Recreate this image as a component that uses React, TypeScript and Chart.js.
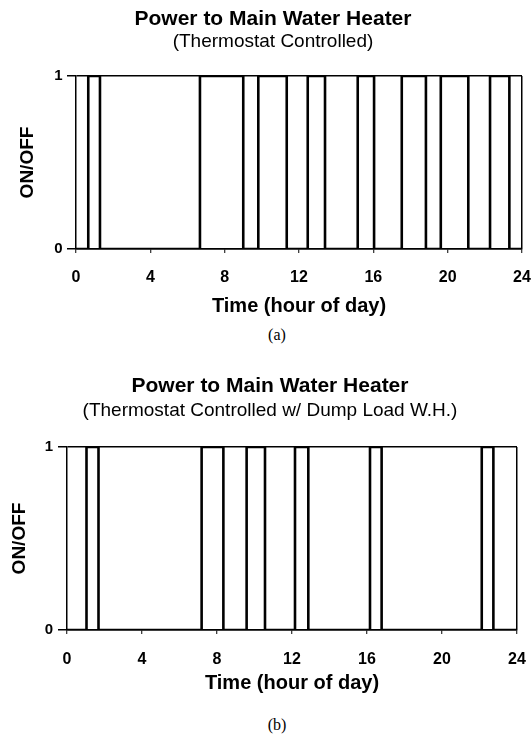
import React, { useEffect, useRef } from 'react';
import { Chart, registerables } from 'chart.js';

Chart.register(...registerables);

const FONT = '"Liberation Sans", Arial, Helvetica, sans-serif';

// ---- text ----
const chartTitle = 'Power to Main Water Heater';
const subtitleA = '(Thermostat Controlled)';
const subtitleB = '(Thermostat Controlled w/ Dump Load W.H.)';
const xAxisTitle = 'Time (hour of day)';
const yAxisTitle = 'ON/OFF';
const captionA = '(a)';
const captionB = '(b)';

// ---- axes ----
const xMin = 0;
const xMax = 24;
const xTickStep = 4;
const yMin = 0;
const yMax = 1;
const yTickStep = 1;

// ---- data: hour at which the state switches, and the new state ----
const hoursA = [0, 0.66, 1.29, 6.67, 9.0, 9.81, 11.34, 12.47, 13.4, 15.16, 16.04, 17.53, 18.83, 19.63, 21.11, 22.28, 23.32, 24];
const stateA = [0, 1, 0, 1, 0, 1, 0, 1, 0, 1, 0, 1, 0, 1, 0, 1, 0, 0];

const hoursB = [0, 1.04, 1.68, 7.18, 8.34, 9.58, 10.56, 12.16, 12.87, 16.16, 16.78, 22.12, 22.74, 24];
const stateB = [0, 1, 0, 1, 0, 1, 0, 1, 0, 1, 0, 1, 0, 0];

type Geo = {
  height: number;
  padLeft: number;
  padRight: number;
  titleTop: number;
  subTop: number;
  subBottom: number;
  xHeight: number;
  xTickPad: number;
  xTitleBottom: number;
  yWidth: number;
  yTickPad: number;
  yTitlePad: number;
};

const geoA: Geo = {
  height: 320,
  padLeft: 24,
  padRight: 10,
  titleTop: 9,
  subTop: 2,
  subBottom: 25,
  xHeight: 71,
  xTickPad: 14.9,
  xTitleBottom: 2,
  yWidth: 52,
  yTickPad: 4.5,
  yTitlePad: -7.9,
};

const geoB: Geo = {
  height: 340,
  padLeft: 23,
  padRight: 15,
  titleTop: 15.5,
  subTop: 5,
  subBottom: 26.5,
  xHeight: 70,
  xTickPad: 16.4,
  xTitleBottom: 5,
  yWidth: 44,
  yTickPad: 5,
  yTitlePad: -14.9,
};

function buildConfig(hours: number[], states: number[], subtitle: string, g: Geo): any {
  const points = hours.map((h, i) => ({ x: h, y: states[i] }));
  return {
    type: 'line',
    data: {
      datasets: [
        {
          data: points,
          stepped: true,
          borderColor: '#000',
          borderWidth: 2.6,
          pointRadius: 0,
          fill: false,
          tension: 0,
        },
      ],
    },
    options: {
      animation: false,
      responsive: false,
      devicePixelRatio: 1,
      layout: { padding: { left: g.padLeft, right: g.padRight, top: 0, bottom: 0 } },
      plugins: {
        legend: { display: false },
        tooltip: { enabled: false },
        title: {
          display: true,
          text: chartTitle,
          color: '#000',
          font: { family: FONT, size: 21, weight: 'bold', lineHeight: 1 },
          padding: { top: g.titleTop, bottom: 0 },
        },
        subtitle: {
          display: true,
          text: subtitle,
          color: '#000',
          font: { family: FONT, size: 19, weight: 'normal', lineHeight: 1 },
          padding: { top: g.subTop, bottom: g.subBottom },
        },
      },
      scales: {
        x: {
          type: 'linear',
          min: xMin,
          max: xMax,
          afterFit: (s: any) => {
            s.height = g.xHeight;
            s.paddingLeft = 0;
            s.paddingRight = 0;
          },
          ticks: {
            stepSize: xTickStep,
            color: '#000',
            font: { family: FONT, size: 16, weight: 'bold' },
            padding: g.xTickPad,
            maxRotation: 0,
            autoSkip: false,
          },
          grid: {
            color: (ctx: any) => (ctx.tick && ctx.tick.value === xMax ? '#000' : 'rgba(0,0,0,0)'),
            lineWidth: 1.5,
            tickColor: '#000',
            tickLength: 4,
            tickWidth: 1,
          },
          border: { display: true, color: '#000', width: 1.5 },
          title: {
            display: true,
            text: xAxisTitle,
            color: '#000',
            font: { family: FONT, size: 20, weight: 'bold' },
            padding: { top: 0, bottom: g.xTitleBottom },
          },
        },
        y: {
          type: 'linear',
          min: yMin,
          max: yMax,
          afterFit: (s: any) => {
            s.width = g.yWidth;
          },
          ticks: {
            stepSize: yTickStep,
            color: '#000',
            font: { family: FONT, size: 15, weight: 'bold' },
            padding: g.yTickPad,
          },
          grid: {
            color: '#000',
            lineWidth: 1.5,
            tickColor: '#000',
            tickLength: 9,
            tickWidth: 1.5,
          },
          border: { display: true, color: '#000', width: 1.5 },
          title: {
            display: true,
            text: yAxisTitle,
            color: '#000',
            font: { family: FONT, size: 19, weight: 'bold' },
            padding: { top: g.yTitlePad, bottom: 0 },
          },
        },
      },
    },
  };
}

function StepChart(props: { hours: number[]; states: number[]; subtitle: string; geo: Geo; top: number }) {
  const ref = useRef<HTMLCanvasElement | null>(null);
  useEffect(() => {
    if (!ref.current) return;
    const chart = new Chart(ref.current, buildConfig(props.hours, props.states, props.subtitle, props.geo));
    return () => chart.destroy();
  }, []);
  return (
    <canvas
      ref={ref}
      width={532}
      height={props.geo.height}
      style={{ position: 'absolute', left: 0, top: props.top, width: 532, height: props.geo.height, display: 'block' }}
    />
  );
}

function Caption(props: { text: string; centerY: number }) {
  return (
    <div
      style={{
        position: 'absolute',
        left: 177,
        width: 200,
        top: props.centerY - 10,
        height: 20,
        lineHeight: '20px',
        textAlign: 'center',
        fontFamily: '"Liberation Serif", "Times New Roman", serif',
        fontSize: 16,
        color: '#000',
      }}
    >
      {props.text}
    </div>
  );
}

export default function App() {
  return (
    <div style={{ position: 'absolute', left: 0, top: 0, width: 532, height: 735, background: '#fff', overflow: 'hidden' }}>
      <StepChart hours={hoursA} states={stateA} subtitle={subtitleA} geo={geoA} top={0} />
      <Caption text={captionA} centerY={335} />
      <StepChart hours={hoursB} states={stateB} subtitle={subtitleB} geo={geoB} top={360} />
      <Caption text={captionB} centerY={725} />
    </div>
  );
}
